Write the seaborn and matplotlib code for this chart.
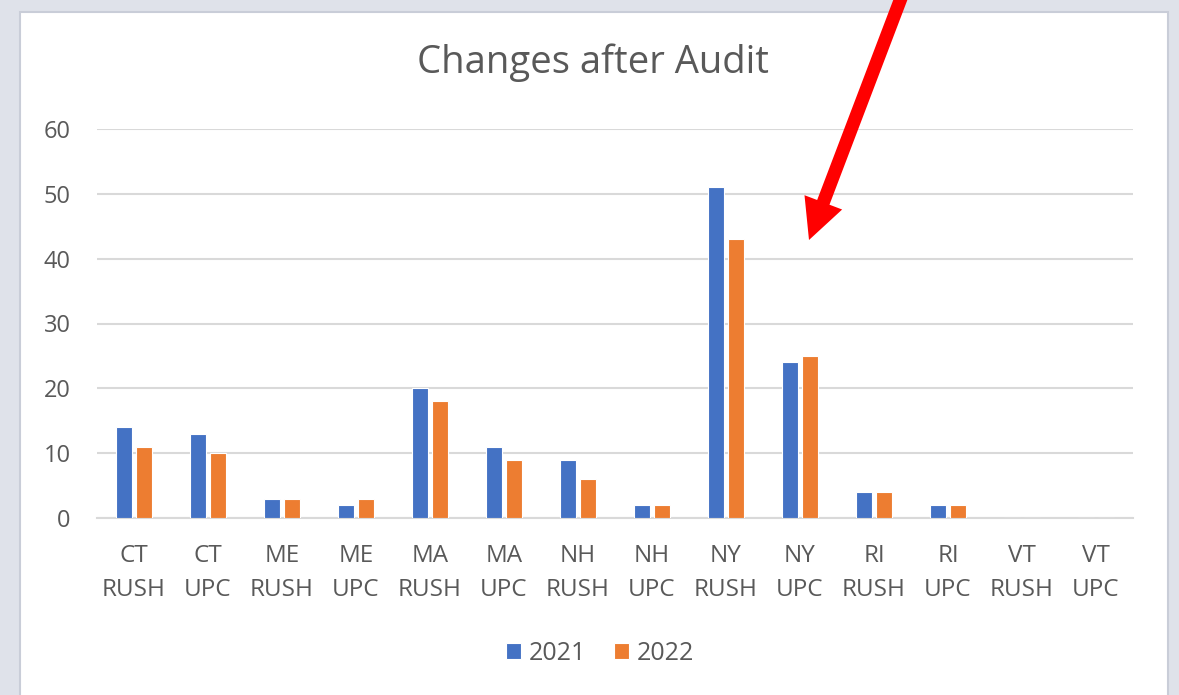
import pandas as pd
import matplotlib.pyplot as plt
import matplotlib.patches as mpatches
import seaborn as sns

# 数据
categories = ['CT\nRUSH', 'CT\nUPC', 'ME\nRUSH', 'ME\nUPC', 'MA\nRUSH', 'MA\nUPC', 'NH\nRUSH',
              'NH\nUPC', 'NY\nRUSH', 'NY\nUPC', 'RI\nRUSH', 'RI\nUPC', 'VT\nRUSH', 'VT\nUPC']
values_2021 = [14, 13, 3, 2, 20, 11, 9, 2, 51, 24, 4, 2, 0, 0]
values_2022 = [11, 10, 3, 3, 18, 9, 6, 2, 43, 25, 4, 2, 0, 0]
years = ['2021', '2022']
y_ticks = [0, 10, 20, 30, 40, 50, 60]

df = pd.DataFrame({
    'category': categories * 2,
    'year': [years[0]] * len(categories) + [years[1]] * len(categories),
    'value': values_2021 + values_2022,
})

sns.set_theme(style='white')
plt.rcParams['font.family'] = ['Open Sans', 'DejaVu Sans']
text_color = '#595959'

fig = plt.figure(figsize=(11.79, 6.95), dpi=100, facecolor='#dfe2ea')
# 白色图表区域（带边框阴影效果）
fig.patches.append(mpatches.Rectangle((20 / 1179, -0.01), 1148 / 1179, 1 - 12 / 695 + 0.01,
                                      transform=fig.transFigure, facecolor='white',
                                      edgecolor='#c9cdd8', linewidth=1.5, zorder=-10))

ax = fig.add_axes([97 / 1179, 1 - 518 / 695, 1036 / 1179, 389 / 695])
ax.set_facecolor('none')
sns.barplot(data=df, x='category', y='value', hue='year', order=categories,
            palette=['#4472C4', '#ED7D31'], saturation=1, width=0.54, gap=0.16,
            linewidth=0.8, edgecolor='#ffffff', ax=ax, zorder=3)

ax.set_ylim(0, 60)
ax.set_xlim(-0.5, len(categories) - 0.5)
ax.set_yticks(y_ticks)
ax.yaxis.grid(True, color='#d9d9d9', linewidth=1.5, zorder=0)
ax.set_axisbelow(True)
for s in ['top', 'right', 'left']:
    ax.spines[s].set_visible(False)
ax.spines['bottom'].set_color('#d9d9d9')
ax.spines['bottom'].set_linewidth(1.5)
ax.tick_params(axis='y', length=0, pad=19, labelsize=17, labelcolor=text_color)
ax.tick_params(axis='x', length=0, pad=19, labelsize=17.5, labelcolor=text_color)
for t in ax.get_xticklabels():
    t.set_linespacing(1.55)
ax.set_xlabel('')
ax.set_ylabel('')

fig.text(593 / 1179, 1 - 63 / 695, 'Changes after Audit', ha='center', va='center',
         fontsize=27.5, color=text_color)

handles, labels = ax.get_legend_handles_labels()
ax.legend(handles, labels, loc='center', bbox_to_anchor=(600 / 1179, 1 - 653 / 695),
          bbox_transform=fig.transFigure, ncol=2, frameon=False, fontsize=18,
          labelcolor=text_color, handlelength=0.6, handleheight=0.6,
          handletextpad=0.3, columnspacing=1.1)

# 红色箭头
ax.annotate('', xy=(809, 695 - 240), xycoords='figure pixels',
            xytext=(906, 695 + 15), textcoords='figure pixels', annotation_clip=False,
            arrowprops=dict(arrowstyle='simple,head_length=2.9,head_width=2.9,tail_width=0.95',
                            facecolor='#ff0000', edgecolor='none', mutation_scale=10,
                            shrinkA=0, shrinkB=0))

plt.savefig('out.png', dpi=100, facecolor=fig.get_facecolor())
